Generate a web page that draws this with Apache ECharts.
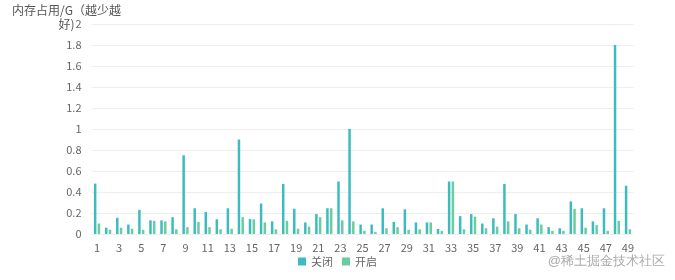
<!DOCTYPE html>
<html>
<head>
<meta charset="utf-8">
<script src="https://cdn.jsdelivr.net/npm/echarts@6/dist/echarts.min.js"></script>
<style>html,body{margin:0;padding:0;background:#fff}#c{width:675px;height:280px}</style>
</head>
<body>
<div id="c"></div>
<script>
const categories = Array.from({length:49},(_,i)=>String(i+1));
const seriesNames = ['关闭','开启'];
const offValues = [0.48,0.06,0.155,0.09,0.23,0.13,0.13,0.16,0.75,0.245,0.21,0.14,0.245,0.9,0.143,0.29,0.12,0.476,0.24,0.11,0.19,0.245,0.5,1.0,0.09,0.09,0.245,0.115,0.235,0.11,0.11,0.048,0.5,0.17,0.19,0.10,0.15,0.476,0.19,0.09,0.15,0.065,0.055,0.31,0.245,0.12,0.245,1.8,0.46];
const onValues = [0.1,0.04,0.06,0.05,0.04,0.125,0.12,0.045,0.065,0.115,0.065,0.045,0.05,0.16,0.14,0.11,0.045,0.125,0.05,0.07,0.16,0.245,0.13,0.12,0.03,0.02,0.055,0.065,0.04,0.045,0.11,0.03,0.5,0.045,0.165,0.055,0.07,0.12,0.055,0.04,0.09,0.03,0.03,0.24,0.06,0.085,0.03,0.125,0.045];
const yAxisName = '内存占用/G（越少越\n好)';
const watermark = '@稀土掘金技术社区';

const chart = echarts.init(document.getElementById('c'));
chart.setOption({
  animation:false,
  textStyle:{fontFamily:'"Noto Sans CJK SC", "Noto Sans", sans-serif'},
  grid:{left:91.5,right:41.5,top:24,bottom:46,outerBoundsMode:'none'},
  legend:{bottom:8,left:'center',itemWidth:8,itemHeight:8,itemGap:9,icon:'rect',
    textStyle:{fontSize:11,color:'#666'},data:seriesNames},
  xAxis:{type:'category',data:categories,
    axisLine:{show:false},axisTick:{show:false},
    axisLabel:{interval:1,color:'#666',fontSize:11,margin:8}},
  yAxis:{type:'value',min:0,max:2,interval:0.2,
    name:yAxisName,nameLocation:'end',nameGap:-7,nameMoveOverlap:false,
    nameTextStyle:{color:'#555',fontSize:12,align:'center',lineHeight:14,padding:[0,50,0,0]},
    axisLabel:{color:'#666',fontSize:11,margin:10,formatter:v=>String(Math.round(v*10)/10)},
    splitLine:{lineStyle:{color:'#eeeeee'}},axisLine:{show:false},axisTick:{show:false}},
  series:[
    {name:seriesNames[0],type:'bar',data:offValues,barWidth:2.5,barGap:'50%',itemStyle:{color:'#3dbcc0'}},
    {name:seriesNames[1],type:'bar',data:onValues,barWidth:2.5,itemStyle:{color:'#6acd9d'}}
  ],
  graphic:[{type:'text',right:10,bottom:12,style:{text:watermark,fontSize:13,fill:'#aaa',
    font:'13px "Noto Sans CJK SC", sans-serif'}}]
});
</script>
</body>
</html>
